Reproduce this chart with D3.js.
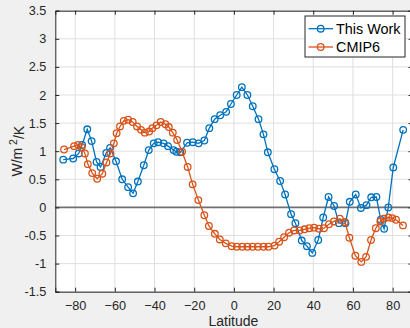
<!DOCTYPE html>
<html><head><meta charset="utf-8">
<script src="https://cdn.jsdelivr.net/npm/d3@7"></script>
<style>
html,body{margin:0;padding:0;background:#f0f0f0;}
svg{display:block;font-family:"Liberation Sans",Arial,Helvetica,sans-serif;}
</style></head>
<body>
<svg id="chart" width="410" height="328"></svg>
<script>
// ---- data ----
const seriesNames = ["This Work", "CMIP6"];
const thisWorkLat = [-86.0,-81.0,-78.2,-76.5,-73.9,-71.7,-69.2,-67.2,-64.3,-62.4,-59.4,-56.3,-53.3,-50.8,-48.4,
  -45.4,-42.9,-40.4,-38.2,-35.4,-33.2,-30.4,-29.0,-27.0,-23.6,-20.7,-17.8,-14.9,-12.4,-9.7,-6.9,-3.9,-1.5,1.4,4.0,
  6.8,9.5,12.4,14.9,17.1,20.4,23.3,25.8,28.8,31.0,34.2,36.8,39.5,42.5,45.0,47.7,50.5,52.9,56.2,58.4,61.4,64.0,
  66.8,69.2,71.8,74.0,75.7,77.8,80.3,85.3];
const thisWorkVal = [0.85,0.87,0.96,1.11,1.39,1.18,0.81,0.72,0.97,1.06,0.82,0.50,0.36,0.25,0.46,
  0.75,1.02,1.14,1.16,1.14,1.09,1.02,0.99,0.98,1.15,1.16,1.14,1.19,1.41,1.57,1.64,1.70,1.84,2.00,2.14,
  2.00,1.80,1.57,1.30,0.98,0.68,0.47,0.23,-0.12,-0.28,-0.59,-0.69,-0.81,-0.58,-0.18,0.185,0.025,-0.28,-0.28,0.10,0.23,-0.01,
  0.04,0.18,0.185,-0.22,-0.38,0.00,0.71,1.38];
const cmip6Lat = [-85.6,-80.5,-78.5,-76.7,-75.1,-73.6,-71.4,-68.9,-66.3,-64.2,-62.2,-60.5,-59.1,-57.4,-55.5,-53.3,
  -51.0,-48.8,-46.8,-44.9,-42.7,-41.1,-39.0,-36.9,-34.5,-32.8,-30.8,-28.6,-26.1,-23.3,-20.8,-17.9,-14.9,-12.6,-9.6,
  -7.1,-4.1,-1.1,1.5,4.2,6.8,9.4,12.1,14.9,17.4,20.5,22.8,25.3,27.8,30.3,33.1,35.6,38.0,40.4,42.9,45.4,47.9,50.4,
  53.4,55.9,58.2,61.2,64.2,66.6,69.1,71.5,73.8,75.5,77.8,79.8,81.7,85.2];
const cmip6Val = [1.03,1.09,1.11,1.07,0.96,0.77,0.61,0.51,0.60,0.80,0.96,1.14,1.32,1.44,1.54,1.56,
  1.52,1.44,1.38,1.33,1.35,1.41,1.46,1.52,1.48,1.43,1.33,1.20,0.99,0.72,0.41,0.13,-0.14,-0.33,-0.47,
  -0.57,-0.64,-0.69,-0.70,-0.70,-0.70,-0.70,-0.70,-0.70,-0.70,-0.68,-0.61,-0.53,-0.45,-0.41,-0.41,-0.39,-0.37,-0.36,-0.38,-0.37,-0.30,-0.25,
  -0.20,-0.26,-0.54,-0.86,-0.97,-0.88,-0.58,-0.37,-0.25,-0.20,-0.18,-0.19,-0.22,-0.32];
const xTicks = [-80,-60,-40,-20,0,20,40,60,80];
const yTicks = [-1.5,-1,-0.5,0,0.5,1,1.5,2,2.5,3,3.5];
const colors = ["#0072BD","#D95319"];

// ---- layout ----
const svg = d3.select("#chart");
const L = 55.3, R = 412.5, T = 10.7, B = 291.7;
const x = d3.scaleLinear().domain([-90,90]).range([L,R]);
const y = d3.scaleLinear().domain([-1.5,3.5]).range([B,T]);
const axisColor = "#262626";

svg.append("rect").attr("x",L).attr("y",T).attr("width",R-L).attr("height",B-T).attr("fill","#fff");

// grid
const g = svg.append("g");
g.selectAll(".gx").data(xTicks).enter().append("line")
  .attr("x1",d=>x(d)).attr("x2",d=>x(d)).attr("y1",T).attr("y2",B)
  .attr("stroke","#dfdfdf").attr("stroke-width",1);
g.selectAll(".gy").data(yTicks).enter().append("line")
  .attr("x1",L).attr("x2",R).attr("y1",d=>y(d)).attr("y2",d=>y(d))
  .attr("stroke","#dfdfdf").attr("stroke-width",1);

// zero line
svg.append("line").attr("x1",L).attr("x2",R).attr("y1",y(0)).attr("y2",y(0))
  .attr("stroke","#707070").attr("stroke-width",1.6);

// axes
const xAxis = d3.axisBottom(x).tickValues(xTicks).tickSize(-4).tickPadding(9).tickFormat(d3.format("d"));
const xAxisTop = d3.axisTop(x).tickValues(xTicks).tickSize(-4).tickFormat("");
const yAxis = d3.axisLeft(y).tickValues(yTicks).tickSize(-4).tickPadding(9).tickFormat(d=>String(d));
const yAxisR = d3.axisRight(y).tickValues(yTicks).tickSize(-4).tickFormat("");

function styleAxis(sel){
  sel.select(".domain").attr("stroke",axisColor).attr("stroke-width",1);
  sel.selectAll(".tick line").attr("stroke",axisColor).attr("stroke-width",1);
  sel.selectAll(".tick text").attr("fill",axisColor).style("font-size","12.7px")
     .style("font-family","'Liberation Sans',Arial,sans-serif");
}
svg.append("g").attr("transform",`translate(0,${B})`).call(xAxis).call(styleAxis)
  .selectAll(".tick text").attr("dy","0.71em");
svg.append("g").attr("transform",`translate(0,${T})`).call(xAxisTop).call(styleAxis);
svg.append("g").attr("transform",`translate(${L},0)`).call(yAxis).call(styleAxis);
svg.append("g").attr("transform",`translate(${R},0)`).call(yAxisR).call(styleAxis);
svg.selectAll(".domain").attr("d", function(){ return d3.select(this).attr("d").replace(/V-?\d+(\.\d+)?|H-?\d+(\.\d+)?/g, m=>m); });

// series
const series = [
  {name:seriesNames[0], lat:thisWorkLat, val:thisWorkVal, color:colors[0]},
  {name:seriesNames[1], lat:cmip6Lat, val:cmip6Val, color:colors[1]}
];
const line = d3.line().x(d=>x(d[0])).y(d=>y(d[1]));
const clipId = "plotclip";
svg.append("clipPath").attr("id",clipId).append("rect").attr("x",L).attr("y",T).attr("width",R-L).attr("height",B-T);
series.forEach(s=>{
  const pts = s.lat.map((la,i)=>[la,s.val[i]]);
  const sg = svg.append("g");
  sg.append("path").datum(pts).attr("d",line).attr("fill","none")
    .attr("stroke",s.color).attr("stroke-width",1.3);
  sg.selectAll("circle").data(pts).enter().append("circle")
    .attr("cx",d=>x(d[0])).attr("cy",d=>y(d[1])).attr("r",3.3)
    .attr("fill","none").attr("stroke",s.color).attr("stroke-width",1.3);
});

// axis labels
svg.append("text").attr("x",(L+R)/2 - 0.5).attr("y",326).attr("text-anchor","middle")
  .attr("fill",axisColor).style("font-size","14px").text("Latitude");
const yl = svg.append("text").attr("transform",`translate(22,${(T+B)/2}) rotate(-90)`)
  .attr("text-anchor","middle").attr("fill",axisColor).style("font-size","14px");
yl.append("tspan").text("W/m");
yl.append("tspan").attr("dy","-0.45em").style("font-size","10.5px").text(" 2");
yl.append("tspan").attr("dy","0.45em").text("/K");

// legend
const lg = svg.append("g");
lg.append("rect").attr("x",305).attr("y",16).attr("width",100).attr("height",41)
  .attr("fill","#fff").attr("stroke",axisColor).attr("stroke-width",1);
series.forEach((s,i)=>{
  const cy = 28.7 + i*18.3;
  lg.append("line").attr("x1",308.5).attr("x2",333).attr("y1",cy).attr("y2",cy)
    .attr("stroke",s.color).attr("stroke-width",1.3);
  lg.append("circle").attr("cx",320.7).attr("cy",cy).attr("r",3.3)
    .attr("fill","none").attr("stroke",s.color).attr("stroke-width",1.3);
  lg.append("text").attr("x",336).attr("y",cy).attr("dy","0.35em")
    .attr("fill","#000").style("font-size","14.4px").text(s.name);
});
</script>
</body></html>
